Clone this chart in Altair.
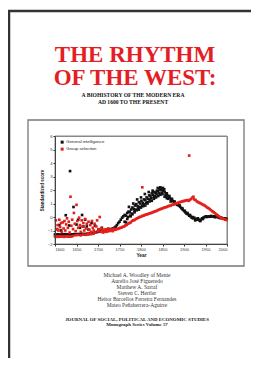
import altair as alt
import pandas as pd

# ---------------- data ----------------
gi_years = [1600,1603,1606,1609,1612,1615,1618,1621,1624,1627,1630,1633,1636,1639,1642,1645,1648,1651,1654,1657,
            1660,1663,1666,1669,1672,1675,1678,1681,1684,1687,1690,1693,1696,1699,1702,1705,1708,1711,1714,1717,
            1720,1723,1726,1729,1732,1735,1738,1741,1744,1747,1750,1753,1756,1759,1762,1765,1768,1771,1774,1777,
            1780,1783,1786,1789,1792,1795,1798,1801,1804,1807,1810,1813,1816,1819,1822,1825,1828,1831,1834,1837,
            1840,1843,1846,1849,1852,1855,1858,1861,1864,1867,1870,1873,1876,1879,1882,1885,1888,1891,1894,1897,
            1900,1903,1906,1909,1912,1915,1918,1921,1924,1927,1930,1933,1936,1939,1942,1945,1948,1951,1954,1957,
            1960,1963,1966,1969,1972,1975,1978,1981,1984,1987,1990,1993,1996,1999,
            1762,1768,1772,1776,1779,1782,1785,1788,1791,1794,1797,1800,1803,1806,1809,1812,1815,1818,1821,1824,
            1827,1830,1833,1836,1839,1842,1845,1848,1851,1854,1857,1860,1863,1866,1869,
            1765,1770,1775,1780,1785,1790,1795,1800,1805,1810,1815,1820,1825,1830,1835,1840,1845,1850,1855,1860,
            1872,1878,1884,1890,1896,1902,1908,1914,1920,1926,1932,1938,1944,
            1625,1633,1635,1643,1650,1654,1658,1663,1666,1670,1674,1678,1685,1693,1701,1709,1716,1610,1605,1614]
gi_values = [-1.30,-1.32,-1.28,-1.30,-1.33,-1.29,-1.31,-1.30,-1.27,-1.30,-1.28,-1.30,-1.32,-1.29,-1.30,-1.27,-1.29,-1.30,-1.26,-1.28,
             -1.30,-1.27,-1.25,-1.28,-1.26,-1.24,-1.27,-1.22,-1.25,-1.20,-1.18,-1.15,-1.12,-1.10,-1.05,-1.08,-1.00,-1.04,-0.98,-1.02,
             -0.95,-0.98,-0.92,-0.95,-0.88,-0.85,-0.80,-0.72,-0.60,-0.45,-0.35,-0.20,-0.05,0.05,0.15,0.10,0.30,0.40,0.35,0.55,
             0.70,0.60,0.85,0.95,0.80,1.10,1.00,1.20,1.05,1.30,1.25,1.45,1.35,1.60,1.55,1.75,1.65,1.85,1.80,1.95,
             1.90,2.05,2.00,2.10,1.95,1.85,1.75,1.60,1.50,1.40,1.30,1.20,1.15,1.05,1.00,0.95,0.85,0.75,0.65,0.55,
             0.45,0.35,0.25,0.20,0.10,0.05,-0.05,-0.10,-0.05,-0.15,-0.20,-0.15,-0.25,-0.20,-0.10,-0.05,0.00,0.05,0.00,0.05,
             0.02,0.08,0.03,0.05,-0.02,0.05,0.00,-0.05,-0.08,-0.05,-0.10,-0.12,-0.10,-0.15,
             -0.35,-0.15,0.75,0.05,0.25,1.00,0.35,0.55,1.30,0.65,0.75,1.45,0.85,0.95,1.70,1.05,1.10,1.85,1.30,1.40,
             1.95,1.50,1.55,1.70,2.15,1.75,2.20,1.80,2.15,2.05,1.60,1.75,1.35,1.55,1.15,
             -0.40,0.00,0.10,0.20,0.45,0.50,0.55,0.70,0.80,0.85,1.00,1.15,1.20,1.35,1.45,1.55,1.65,1.70,1.50,1.40,
             1.35,1.15,0.90,0.85,0.65,0.45,0.30,0.15,0.00,-0.25,-0.10,-0.30,-0.15,
             0.13,-0.63,3.40,0.74,-0.56,-0.20,-0.80,0.15,-0.70,-0.20,-0.70,-0.93,-0.45,-0.63,-0.93,-0.80,-1.05,-0.60,-0.90,-1.00]

gs_years = [1600,1603,1606,1609,1612,1615,1618,1621,1624,1627,1630,1633,1636,1639,1642,
            1648,1654,1660,1666,1672,1678,1684,1690,
            1740,1743,1746,1749,1752,1755,1758,1761,1764,1767,1770,1773,1776,1779,1782,1785,1788,1791,1794,1797,
            1800,1803,1806,1809,1812,1815,1818,1821,1824,1827,1830,1833,1836,1839,1842,1845,1848,1851,1854,1857,
            1860,1863,1866,1869,1872,1875,1878,1881,1884,1887,1890,1893,1896,1899,1902,1905,1908,1911,1914,1917,
            1920,1922,1924,1927,1930,1933,1936,1939,1942,1945,1948,1951,1954,1957,1960,1963,1966,1969,1972,1975,
            1978,1981,1984,1987,1990,1993,1996,1999,
            1602,1604,1606,1608,1610,1612,1614,1616,1618,1620,1622,1624,1626,1628,1630,1632,1634,1636,1638,1640,
            1642,1644,1646,1648,1650,1652,1654,1656,1658,1660,1662,1664,1666,1668,1670,1672,1674,1676,1678,1680,
            1682,1684,1686,1688,1690,1692,1694,1696,1698,1700,1702,1704,1706,1708,1710,1712,1714,1716,1718,1720,
            1722,1724,1726,1728,1730,1732,1734,1736,1738,
            1803,1912]
gs_values = [-1.45,-1.42,-1.47,-1.44,-1.46,-1.43,-1.45,-1.47,-1.44,-1.42,-1.46,-1.44,-1.45,-1.43,-1.40,
             -1.35,-1.33,-1.36,-1.30,-1.32,-1.28,-1.25,-1.22,
             -0.95,-0.90,-0.88,-0.85,-0.80,-0.78,-0.72,-0.70,-0.62,-0.58,-0.50,-0.45,-0.40,-0.30,-0.25,-0.22,-0.15,-0.10,-0.05,0.00,
             0.02,0.08,0.10,0.15,0.18,0.20,0.25,0.28,0.30,0.35,0.38,0.42,0.45,0.50,0.55,0.58,0.62,0.65,0.70,0.72,
             0.75,0.80,0.82,0.85,0.90,0.92,0.95,1.00,1.02,1.05,1.10,1.12,1.15,1.18,1.20,1.22,1.25,1.20,1.28,1.35,
             1.45,1.50,1.30,1.25,1.15,1.10,1.05,1.00,0.95,0.90,0.85,0.78,0.70,0.65,0.58,0.50,0.42,0.35,0.28,0.20,
             0.12,0.05,-0.02,-0.08,-0.12,-0.15,-0.20,-0.22,
             -0.25,-0.90,-0.60,-1.00,-0.20,-0.75,-0.45,-1.10,-0.40,-0.85,-0.30,-1.00,-0.55,-0.10,-0.80,-0.35,-1.15,1.50,-0.65,-0.20,
             -0.90,0.30,-0.50,-1.05,0.90,-0.30,-0.80,-0.05,-0.60,-1.10,-0.25,-0.70,-0.45,-1.00,-0.15,-0.85,-0.50,-1.20,-0.35,-0.95,
             -0.60,-1.10,-0.30,-0.80,-1.00,-0.50,-1.15,-0.70,-0.25,-1.05,-0.90,0.00,-1.10,-0.85,-1.00,-1.15,-0.95,-1.05,-0.90,-1.10,
             -1.00,-0.85,-1.05,-0.95,-1.00,-0.90,-1.05,-0.95,-0.88,
             2.20,4.55]

series_names = ["General intelligence", "Group selection"]
series_colors = ["#111111", "#e3201b"]

x_ticks = [1600, 1650, 1700, 1750, 1800, 1850, 1900, 1950, 2000]
y_ticks = [-2, -1, 0, 1, 2, 3, 4, 5, 6]

title_lines = ["THE RHYTHM", "OF THE WEST:"]
subtitle_lines = ["A BIOHISTORY OF THE MODERN ERA", "AD 1600 TO THE PRESENT"]
author_lines = ["Michael A. Woodley of Menie", "Aurelio José Figueredo", "Matthew A. Sarraf",
                "Steven C. Hertler", "Heitor Barcellos Ferreira Fernandes", "Mateo Peñaherrera-Aguirre"]
journal_lines = ["JOURNAL OF  SOCIAL, POLITICAL AND ECONOMIC STUDIES", "Monograph Series Volume 57"]

# ---------------- build ----------------
df = pd.concat([
    pd.DataFrame({"year": gi_years, "score": gi_values, "series": series_names[0]}),
    pd.DataFrame({"year": gs_years, "score": gs_values, "series": series_names[1]}),
], ignore_index=True)
df["order"] = (df["series"] == series_names[1]).astype(int)

one = pd.DataFrame({"d": [0]})

SERIF = "Liberation Serif"
SANS = "Liberation Sans"

pts = alt.Chart(df).mark_square(size=7, opacity=1).encode(
    x=alt.X("year:Q", scale=alt.Scale(domain=[1600, 2000], nice=False),
            axis=alt.Axis(values=x_ticks, format="d", title="Year", grid=False, zindex=2,
                          labelFontSize=4, labelFont=SANS, labelColor="#333", labelPadding=1,
                          tickSize=2, tickColor="#333", domainColor="#444",
                          titleFontSize=4.8, titleFont=SANS, titleFontWeight="bold",
                          titleColor="#222", titlePadding=1)),
    y=alt.Y("score:Q", scale=alt.Scale(domain=[-2, 6], nice=False),
            axis=alt.Axis(values=y_ticks, title="Standardized score", grid=False, zindex=2,
                          labelFontSize=4.2, labelFont=SANS, labelColor="#333", labelPadding=1,
                          tickSize=2, tickColor="#333", domainColor="#444",
                          titleFontSize=4.5, titleFont=SANS, titleFontWeight="bold",
                          titleColor="#222", titlePadding=3)),
    color=alt.Color("series:N", scale=alt.Scale(domain=series_names, range=series_colors),
                    legend=alt.Legend(title=None, orient="none", legendX=5, legendY=4,
                                      symbolType="square", symbolSize=9, labelFontSize=4.3,
                                      labelFont=SANS, labelColor="#222", labelOffset=2,
                                      rowPadding=2, padding=0, symbolStrokeWidth=0)),
    order=alt.Order("order:Q"),
)

layers = []

# cover frame (left + top dark lines)
layers.append(alt.Chart(one).mark_rule(color="#333", strokeWidth=2.5).encode(
    x=alt.value(-46), y=alt.value(-126), y2=alt.value(240)))
layers.append(alt.Chart(one).mark_rule(color="#333", strokeWidth=2.5).encode(
    x=alt.value(-47), x2=alt.value(204), y=alt.value(-125)))

# chart box
layers.append(alt.Chart(one).mark_rect(fillOpacity=0, stroke="#777", strokeWidth=1.3).encode(
    x=alt.value(-27), x2=alt.value(189), y=alt.value(-16), y2=alt.value(130)))

# plot frame (top/right gray lines)
layers.append(alt.Chart(one).mark_rect(fillOpacity=0, stroke="#888", strokeWidth=1).encode(
    x=alt.value(0), x2=alt.value(172), y=alt.value(0), y2=alt.value(108)))

CX = 80

def text_layer(txt, y, size, font, weight, color, x=CX):
    return alt.Chart(one).mark_text(text=txt, font=font, fontSize=size, fontWeight=weight,
                                    color=color, align="center", baseline="alphabetic").encode(
        x=alt.value(x), y=alt.value(y))

for txt, y in zip(title_lines, [-74, -51]):
    layers.append(text_layer(txt, y, 23, SERIF, "bold", "#e41e25"))
for txt, y in zip(subtitle_lines, [-39, -32]):
    layers.append(text_layer(txt, y, 5.6, SERIF, "bold", "#111", x=CX - 2))
for txt, y in zip(author_lines, [141, 147, 153, 159, 165, 171]):
    layers.append(text_layer(txt, y, 5.5, SERIF, "normal", "#333", x=CX + 2))
for txt, y in zip(journal_lines, [185, 190]):
    layers.append(text_layer(txt, y, 4.9, SERIF, "bold", "#222", x=CX + 2))

layers.append(pts)

chart = alt.layer(*layers).properties(
    width=172, height=108,
    autosize=alt.AutoSizeParams(type="none"),
    padding={"left": 47, "top": 128, "right": 24, "bottom": 114},
    background="white",
).configure_view(stroke="#888", strokeWidth=1)

chart.save("out.html", embed_options={"renderer": "svg", "actions": False})
